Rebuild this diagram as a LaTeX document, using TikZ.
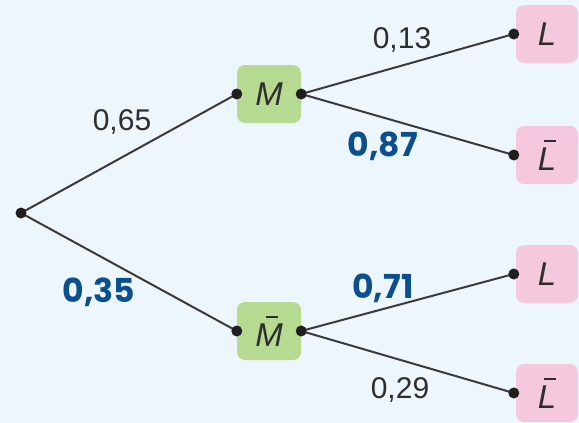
\documentclass[tikz,border=0pt]{standalone}
\usepackage{fontspec}
\setmainfont{Liberation Sans}
\newfontfamily\hand{Poppins}
\definecolor{bgc}{HTML}{EEF6FD}
\definecolor{boxg}{HTML}{B6DA92}
\definecolor{boxp}{HTML}{F6C8DE}
\definecolor{linec}{HTML}{3A3A3A}
\definecolor{txtc}{HTML}{2E2E2E}
\definecolor{handc}{HTML}{0B4F8E}
\newcommand\ovbar[2]{\makebox[0pt][l]{\hspace{#1}\rule[0.86em]{0.34em}{0.06em}}#2}
\tikzset{
  gbox/.style={fill=boxg, rounded corners=8pt, minimum width=64pt, minimum height=58pt, inner sep=0pt, text=txtc, font=\fontsize{33}{35}\selectfont\itshape},
  pbox/.style={fill=boxp, rounded corners=8pt, minimum width=62pt, minimum height=58pt, inner sep=0pt, text=txtc, font=\fontsize{33}{35}\selectfont\itshape},
  branch/.style={draw=linec, line width=2pt},
  dotfill/.style={fill=black!88},
  prob/.style={text=txtc, font=\fontsize{30}{32}\selectfont, inner sep=0pt},
  hprob/.style={text=handc, font=\hand\bfseries\fontsize{33}{35}\selectfont, inner sep=0pt}
}
\begin{document}
\begin{tikzpicture}[x=1pt,y=-1pt]
\fill[bgc] (0,0) rectangle (579,423);
\useasboundingbox (0,0) rectangle (579,423);
% boxes
\node[gbox] (M) at (269,94) {M};
\node[gbox] (Mb) at (269,331) {\ovbar{0.34em}{M}};
\node[pbox] (L1) at (547,34) {L};
\node[pbox] (L1b) at (547,155) {\ovbar{0.2em}{L}};
\node[pbox] (L2) at (547,274) {L};
\node[pbox] (L2b) at (547,393) {\ovbar{0.2em}{L}};
% dots
\coordinate (r) at (21,213);
\coordinate (Min) at (M.west);
\coordinate (Mout) at (M.east);
\coordinate (Mbin) at (Mb.west);
\coordinate (Mbout) at (Mb.east);
\coordinate (L1in) at ([xshift=-2pt]L1.west);
\coordinate (L1bin) at ([xshift=-2pt]L1b.west);
\coordinate (L2in) at ([xshift=-2pt]L2.west);
\coordinate (L2bin) at ([xshift=-2pt]L2b.west);
% branches
\draw[branch] (r) -- (Min);
\draw[branch] (r) -- (Mbin);
\draw[branch] (Mout) -- (L1in);
\draw[branch] (Mout) -- (L1bin);
\draw[branch] (Mbout) -- (L2in);
\draw[branch] (Mbout) -- (L2bin);
% dots on top
\foreach \d in {r,Min,Mout,Mbin,Mbout,L1in,L1bin,L2in,L2bin}{\fill[dotfill] (\d) circle (5.5pt);}
% labels
\node[prob] (p65) at (122,122) {0,65};
\node[prob] (p13) at (402,40) {0,13};
\node[prob] (p29) at (400,390) {0,29};
\node[hprob] (p87) at (383,146) {0,87};
\node[hprob] (p35) at (99,292) {0,35};
\node[hprob] (p71) at (383,288) {0,71};
\end{tikzpicture}
\end{document}
